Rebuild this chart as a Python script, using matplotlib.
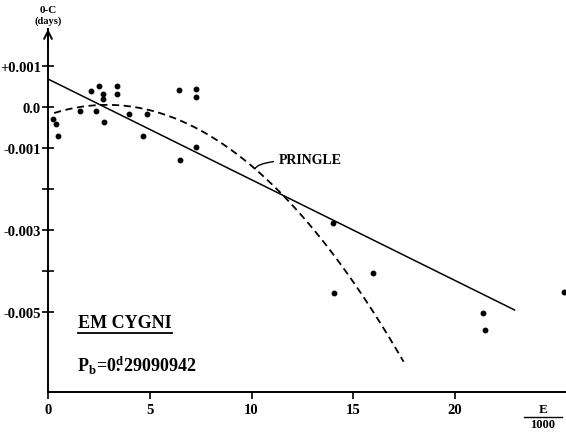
import numpy as np
import matplotlib
matplotlib.use('Agg')
import matplotlib.pyplot as plt

plt.rcParams['font.family'] = ['Liberation Serif', 'DejaVu Serif']
plt.rcParams['font.weight'] = 'bold'
plt.rcParams['mathtext.fontset'] = 'custom'
plt.rcParams['mathtext.rm'] = 'Liberation Serif:bold'
plt.rcParams['mathtext.it'] = 'Liberation Serif:bold'
plt.rcParams['mathtext.bf'] = 'Liberation Serif:bold'

# observed O-C residuals (E in units of 1000 cycles, O-C in days)
E_obs = [0.26, 0.38, 0.48, 1.58, 2.12, 2.35, 2.51, 2.69, 2.72, 2.76,
         3.41, 3.41, 3.99, 4.66, 4.84, 6.45, 6.50, 7.29, 7.29, 7.29,
         14.02, 14.05, 15.96, 21.38, 21.46, 25.33]
oc_obs = [-0.00029, -0.00041, -0.00071, -0.00010, 0.00038, -0.00010, 0.00050,
          0.00032, 0.00020, -0.00037, 0.00050, 0.00031, -0.00018, -0.00071,
          -0.00018, 0.00041, -0.00129, 0.00044, 0.00023, -0.00098,
          -0.00284, -0.00454, -0.00406, -0.00503, -0.00545, -0.00452]

# linear ephemeris (end points)
E_lin = [0.0, 22.92]
oc_lin = [0.00068, -0.00495]

# Pringle quadratic ephemeris: vmax + c*(E-E0)^2
pr_vmax, pr_E0, pr_c = 0.00005, 2.9, -2.95e-5
pr_range = (0.3, 17.47)

yticks = [0.001, 0.0, -0.001, -0.002, -0.003, -0.004, -0.005]
ylabels = ['+0.001', '0.0', '-0.001', '', '-0.003', '', '-0.005']
xticks = [0, 5, 10, 15, 20]

fig = plt.figure(figsize=(5.66, 4.35), dpi=100)
ax = fig.add_axes([0.0848, 0.0966, 0.9152, 0.8345])

ax.plot(E_obs, oc_obs, 'o', color='black', markersize=3.2)
ax.plot(E_lin, oc_lin, '-', color='black', lw=1.1)
Eq = np.linspace(pr_range[0], pr_range[1], 200)
ax.plot(Eq, pr_vmax + pr_c * (Eq - pr_E0) ** 2, '--', color='black', lw=1.3,
        dashes=(4, 2.5))

ax.set_xlim(0, 25.45)
ax.set_ylim(-0.00695, 0.0019)

for s in ['top', 'right']:
    ax.spines[s].set_visible(False)
ax.spines['left'].set_linewidth(1.4)
ax.spines['bottom'].set_linewidth(1.4)

ax.set_yticks(yticks)
ax.set_yticklabels(ylabels, fontsize=10.5, fontweight='bold')
ax.set_xticks(xticks)
ax.set_xticklabels([str(t) for t in xticks], fontsize=10.5, fontweight='bold')
ax.tick_params(axis='y', direction='inout', length=8, width=1.2, pad=1)
ax.tick_params(axis='x', direction='out', length=5, width=1.2, pad=3)

# arrow head on the y axis
ax.annotate('', xy=(0, 1.0), xytext=(0, 0.95), xycoords='axes fraction',
            arrowprops=dict(arrowstyle='->', lw=1.4, color='black',
                            mutation_scale=14, shrinkA=0, shrinkB=0))
fig.text(0.0848, 0.975, '0-C', ha='center', va='center', fontsize=8, fontweight='bold')
fig.text(0.0848, 0.952, '(days)', ha='center', va='center', fontsize=7.5, fontweight='bold')

# E / 1000 label
fig.text(0.959, 0.058, 'E', ha='center', va='center', fontsize=9.5, fontweight='bold')
fig.text(0.959, 0.022, '1000', ha='center', va='center', fontsize=9, fontweight='bold')
fig.add_artist(plt.Line2D([0.925, 0.993], [0.04, 0.04], color='black', lw=1.0))

# star name and period
fig.text(0.221, 0.257, 'EM CYGNI', ha='center', va='center', fontsize=13, fontweight='bold')
fig.add_artist(plt.Line2D([0.138, 0.304], [0.232, 0.232], color='black', lw=1.3))
fig.text(0.136, 0.158, r'$\mathrm{P_b\!=\!0\overset{d}{.}29090942}$', ha='left', va='center',
         fontsize=13)

# Pringle label with hooked leader
ax.annotate('PRINGLE', xy=(10.17, -0.00151), xytext=(11.35, -0.00129),
            fontsize=10, fontweight='bold', va='center', ha='left',
            arrowprops=dict(arrowstyle='-', lw=1.0, color='black',
                            connectionstyle='angle3,angleA=0,angleB=70',
                            shrinkA=2, shrinkB=0))

fig.savefig('out.png', dpi=100, facecolor='white')
